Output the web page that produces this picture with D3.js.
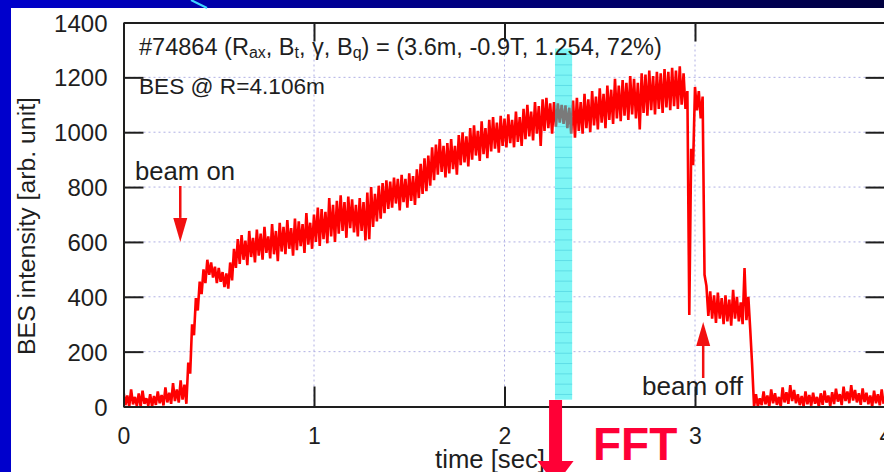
<!DOCTYPE html>
<html><head><meta charset="utf-8">
<script src="https://cdn.jsdelivr.net/npm/d3@7"></script>
<style>html,body{margin:0;padding:0;background:#fff;overflow:hidden}svg{display:block}</style>
</head><body><svg id="c" width="884" height="472"></svg>
<script>
// ---- data ----
const time = [
 0,0.02,0.04,0.06,0.08,0.1,0.12,0.14,0.16,0.18,
 0.2,0.22,0.24,0.26,0.28,0.3,0.32,0.34,0.36,0.38,
 0.4,0.42,0.44,0.46,0.48,0.5,0.52,0.54,0.56,0.58,
 0.6,0.62,0.64,0.66,0.68,0.7,0.72,0.74,0.76,0.78,
 0.8,0.82,0.84,0.86,0.88,0.9,0.92,0.94,0.96,0.98,
 1,1.02,1.04,1.06,1.08,1.1,1.12,1.14,1.16,1.18,
 1.2,1.22,1.24,1.26,1.28,1.3,1.32,1.34,1.36,1.38,
 1.4,1.42,1.44,1.46,1.48,1.5,1.52,1.54,1.56,1.58,
 1.6,1.62,1.64,1.66,1.68,1.7,1.72,1.74,1.76,1.78,
 1.8,1.82,1.84,1.86,1.88,1.9,1.92,1.94,1.96,1.98,
 2,2.02,2.04,2.06,2.08,2.1,2.12,2.14,2.16,2.18,
 2.2,2.22,2.24,2.26,2.28,2.3,2.32,2.34,2.36,2.38,
 2.4,2.42,2.44,2.46,2.48,2.5,2.52,2.54,2.56,2.58,
 2.6,2.62,2.64,2.66,2.68,2.7,2.72,2.74,2.76,2.78,
 2.8,2.82,2.84,2.86,2.88,2.9,2.92,2.94,2.96,2.98,
 3,3.02,3.04,3.06,3.08,3.1,3.12,3.14,3.16,3.18,
 3.2,3.22,3.24,3.26,3.28,3.3,3.32,3.34,3.36,3.38,
 3.4,3.42,3.44,3.46,3.48,3.5,3.52,3.54,3.56,3.58,
 3.6,3.62,3.64,3.66,3.68,3.7,3.72,3.74,3.76,3.78,
 3.8,3.82,3.84,3.86,3.88,3.9,3.92,3.94,3.96,3.98
];
// upper and lower envelope of the BES signal in each time bin
const sigHigh = [
 55,40,62,35,48,58,30,45,38,55,
 42,70,50,85,62,95,80,160,300,395,
 455,500,535,525,510,505,490,485,525,575,
 610,625,605,640,615,645,630,655,620,665,
 640,670,655,680,650,685,675,665,705,670,
 700,725,720,710,760,735,750,770,745,765,
 755,735,760,745,780,800,775,805,815,825,
 820,835,830,845,830,850,840,865,885,905,
 915,945,955,975,950,960,975,950,990,1000,
 985,1015,1025,1005,1040,1015,1045,1055,1035,1060,
 1050,1065,1045,1075,1055,1085,1100,1075,1110,1095,
 1120,1125,1105,1110,1105,1100,1098,1090,1115,1125,
 1110,1140,1120,1150,1130,1160,1140,1170,1155,1195,
 1170,1190,1180,1205,1195,1180,1215,1210,1225,1205,
 1220,1215,1230,1220,1235,1225,1240,1215,1150,940,
 1165,1150,1130,440,420,405,415,395,405,390,
 425,400,380,505,400,150,45,30,55,40,
 62,48,35,70,52,78,60,45,38,55,
 42,50,35,48,58,40,52,65,45,72,
 55,78,60,48,66,50,40,58,45,62
];
const sigLow = [
 5,0,8,2,0,10,3,0,6,12,
 4,15,10,20,14,25,10,120,260,350,
 410,450,480,470,450,455,435,430,460,505,
 520,535,515,545,525,550,535,560,540,555,
 530,565,555,575,550,570,585,560,590,575,
 600,585,610,595,620,600,630,640,615,650,
 635,620,640,605,610,655,675,685,705,720,
 725,740,715,745,725,750,735,760,775,785,
 805,825,845,855,835,850,865,845,880,890,
 875,900,915,895,920,905,930,940,925,950,
 945,960,945,965,950,975,985,970,995,950,
 1005,1015,995,1020,1035,1030,1015,995,980,1005,
 995,1015,1000,1025,1010,1035,1015,1045,1030,1050,
 1040,1060,1045,1065,1050,1010,1070,1060,1080,1065,
 1085,1070,1090,1080,1095,1085,1100,1085,334,880,
 1080,1050,480,330,320,305,320,300,310,295,
 320,310,300,315,280,0,0,5,8,0,
 12,6,0,15,10,20,12,5,0,8,
 3,10,0,6,14,2,9,18,5,20,
 12,22,15,6,16,8,0,12,4,10
];
const xTicks = [0,1,2,3,4];
const yTicks = [0,200,400,600,800,1000,1200,1400];
const xGrid = [1,2,3];
const yGrid = [200,400,600,800,1000,1200];
const fftWindow = [2.265, 2.355];      // time [sec]
const fftWindowLevels = [25, 1305];    // intensity extent of the highlight
const beamOnArrow = [0.298, 804, 600]; // time, from, to
const beamOffArrow = [3.043, 104, 308];
const xLabel = "time [sec]";
const yLabel = "BES intensity [arb. unit]";

// ---- drawing ----
const svg = d3.select("#c");
const FONT = "'Liberation Sans', Arial, sans-serif";
const INK = "#1e1e1e";
const x = d3.scaleLinear().domain([0,4]).range([123.5,885.5]);
const y = d3.scaleLinear().domain([0,1400]).range([406.5,22.5]);

const defs = svg.append("defs");
const g1 = defs.append("linearGradient").attr("id","topgrad").attr("x1","0").attr("x2","1").attr("y1","0").attr("y2","0");
g1.append("stop").attr("offset","0").attr("stop-color","#0000cc");
g1.append("stop").attr("offset","0.45").attr("stop-color","#00008a");
g1.append("stop").attr("offset","1").attr("stop-color","#000040");
defs.append("clipPath").attr("id","bandclip").append("rect")
  .attr("x", x(fftWindow[0])).attr("width", x(fftWindow[1]) - x(fftWindow[0]))
  .attr("y", 0).attr("height", 472);
defs.append("clipPath").attr("id","plotclip").append("rect")
  .attr("x", x(0)).attr("width", x(4)-x(0)).attr("y", y(1400)).attr("height", y(0)-y(1400)+2);

// slide frame
svg.append("rect").attr("x",0).attr("y",0).attr("width",884).attr("height",472).attr("fill","#fff");
svg.append("rect").attr("x",0).attr("y",0).attr("width",884).attr("height",8).attr("fill","url(#topgrad)");
svg.append("rect").attr("x",0).attr("y",0).attr("width",11).attr("height",472).attr("fill","#0000cc");
svg.append("line").attr("x1",191).attr("y1",0).attr("x2",207).attr("y2",8)
  .attr("stroke","#3fd6ff").attr("stroke-width",2);

// grid
const grid = svg.append("g").attr("stroke","#b0b0e4").attr("stroke-width",1).attr("stroke-dasharray","2,3");
grid.selectAll(".gy").data(yGrid).join("line")
  .attr("x1", x(0)).attr("x2", x(4)).attr("y1", d=>y(d)).attr("y2", d=>y(d));
grid.selectAll(".gx").data(xGrid).join("line")
  .attr("y1", y(0)).attr("y2", y(1400)).attr("x1", d=>x(d)).attr("x2", d=>x(d));

// signal: min/max envelope drawn as a dense zig-zag trace
const pts = [];
time.forEach((t,i) => { pts.push([t, sigHigh[i]]); pts.push([t + 0.01, sigLow[i]]); });
const line = d3.line().x(d => x(d[0])).y(d => y(d[1]));
function drawSignal(color, clip){
  svg.append("path").attr("clip-path", clip).attr("d", line(pts)).attr("fill","none")
    .attr("stroke", color).attr("stroke-width",2.6).attr("stroke-linejoin","miter")
    .attr("stroke-miterlimit",3);
}
drawSignal("#ff0000", "url(#plotclip)");

// FFT window highlight
const bx0 = x(fftWindow[0]), bx1 = x(fftWindow[1]);
const by0 = y(fftWindowLevels[1]), by1 = y(fftWindowLevels[0]);
svg.append("rect").attr("x",bx0).attr("y",by0).attr("width",bx1-bx0).attr("height",by1-by0)
  .attr("fill","#7ef5f5");
const stripes = d3.range(by0 + 6, by1, 10.3);
svg.append("g").selectAll("line").data(stripes).join("line")
  .attr("x1",bx0).attr("x2",bx1).attr("y1",d=>d).attr("y2",d=>d)
  .attr("stroke","#5fdde6").attr("stroke-width",1);
drawSignal("#7a7a7a", "url(#bandclip)");

// axes
function styleAxis(g){
  g.select(".domain").attr("stroke",INK).attr("stroke-width",2);
  g.selectAll(".tick line").attr("stroke",INK).attr("stroke-width",2);
  g.selectAll(".tick text").attr("fill",INK).attr("font-family",FONT);
}
const ax = svg.append("g").attr("transform",`translate(0,${y(0)})`)
  .call(d3.axisBottom(x).tickValues(xTicks).tickSize(-20).tickSizeOuter(0).tickPadding(21).tickFormat(d3.format("d")));
styleAxis(ax); ax.selectAll(".tick text").attr("font-size",23);
const axT = svg.append("g").attr("transform",`translate(0,${y(1400)})`)
  .call(d3.axisTop(x).tickValues(xGrid).tickSize(-19).tickSizeOuter(0).tickFormat(""));
styleAxis(axT);
const ay = svg.append("g").attr("transform",`translate(${x(0)},0)`)
  .call(d3.axisLeft(y).tickValues(yTicks).tickSize(-20).tickSizeOuter(0).tickPadding(16).tickFormat(d3.format("d")));
styleAxis(ay); ay.selectAll(".tick text").attr("font-size",24).attr("dy","0.36em");
const ayR = svg.append("g").attr("transform",`translate(${x(4)},0)`)
  .call(d3.axisRight(y).tickValues(yTicks).tickSize(-20).tickSizeOuter(0).tickFormat(""));
styleAxis(ayR);

// helper: scale font so the text spans a given width
function fit(sel, width, base){
  sel.attr("font-size", base);
  const len = sel.node().getComputedTextLength();
  sel.attr("font-size", (base * width / len).toFixed(2));
  return sel;
}

// axis titles
fit(svg.append("text").attr("x",490).attr("y",468).attr("text-anchor","middle")
  .attr("font-family",FONT).attr("fill",INK).text(xLabel), 110, 25);
fit(svg.append("text").attr("transform","translate(35,226) rotate(-90)").attr("text-anchor","middle")
  .attr("font-family",FONT).attr("fill",INK).text(yLabel), 258, 25);

// annotation text
const t1 = svg.append("text").attr("x",139).attr("y",55).attr("font-family",FONT).attr("fill",INK);
const parts = [["#74864 (R",0],["ax",1],[", B",0],["t",1],[", γ, B",0],["q",1],[") = (3.6m, -0.9T, 1.254, 72%)",0]];
parts.forEach(([s,sub],i) => {
  const ts = t1.append("tspan").text(s);
  if (sub) ts.attr("font-size","0.68em").attr("dy","0.2em");
  else if (i>0) ts.attr("dy","-0.136em");
});
fit(t1, 523, 21);
fit(svg.append("text").attr("x",139).attr("y",94).attr("font-family",FONT)
  .attr("fill",INK).text("BES @ R=4.106m"), 186, 21);
fit(svg.append("text").attr("x",135).attr("y",180).attr("font-family",FONT)
  .attr("fill",INK).text("beam on"), 100, 25);
fit(svg.append("text").attr("x",642).attr("y",395).attr("font-family",FONT)
  .attr("fill",INK).text("beam off"), 101, 25);

// red annotation arrows
function arrow(xc, yFrom, yTo, color, w, headW, headL){
  const dir = yTo > yFrom ? 1 : -1;
  const base = yTo - dir*headL;
  svg.append("line").attr("x1",xc).attr("x2",xc).attr("y1",yFrom).attr("y2",base)
    .attr("stroke",color).attr("stroke-width",w);
  svg.append("path").attr("d",`M${xc-headW/2},${base}L${xc+headW/2},${base}L${xc},${yTo}Z`).attr("fill",color);
}
arrow(x(beamOnArrow[0]), y(beamOnArrow[1]), y(beamOnArrow[2]), "#f21010", 2.5, 14, 24);
arrow(x(beamOffArrow[0]), y(beamOffArrow[1]), y(beamOffArrow[2]), "#f21010", 2.5, 14, 24);

// FFT arrow and label
const fx = (bx0 + bx1)/2 - 8;
svg.append("rect").attr("x",fx-6.5).attr("y",400).attr("width",13).attr("height",61).attr("fill","#ff0036");
svg.append("path").attr("d",`M${fx-18},461L${fx+18},461L${fx},485Z`).attr("fill","#ff0036");
svg.append("text").attr("x",593).attr("y",460).attr("font-family",FONT).attr("font-weight","bold")
  .attr("font-size",46).attr("fill","#ff0036").text("FFT");
</script></body></html>
